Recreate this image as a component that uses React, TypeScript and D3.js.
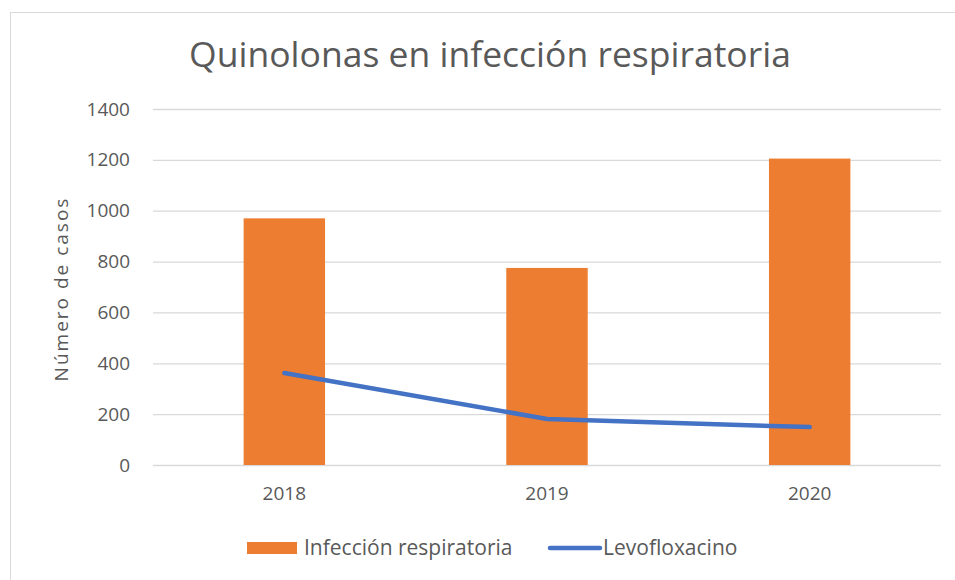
import { useEffect, useRef } from 'react';
import * as d3 from 'd3';

const years = ['2018', '2019', '2020'];
const infeccion = [970, 775, 1205];
const levofloxacino = [362, 181, 149];
const yTicks = [0, 200, 400, 600, 800, 1000, 1200, 1400];

const W = 955;
const H = 580;
const FONT = '"Open Sans", "Liberation Sans", sans-serif';
const GREY = '#595959';

export default function App() {
  const ref = useRef<SVGSVGElement | null>(null);

  useEffect(() => {
    if (!ref.current) return;
    const svg = d3.select(ref.current);
    svg.selectAll('*').remove();

    const margin = { top: 109, right: 14, bottom: 115, left: 153 };
    const innerW = W - margin.left - margin.right;
    const innerH = H - margin.top - margin.bottom;

    // outer frame of the chart area
    svg
      .append('rect')
      .attr('x', 10.5)
      .attr('y', 12.5)
      .attr('width', 1000)
      .attr('height', 1000)
      .attr('fill', '#fff')
      .attr('stroke', '#d9d9d9');

    svg
      .append('text')
      .attr('x', 490)
      .attr('y', 67)
      .attr('text-anchor', 'middle')
      .attr('font-family', FONT)
      .attr('font-size', 35.5)
      .attr('fill', GREY)
      .text('Quinolonas en infección respiratoria');

    const g = svg.append('g').attr('transform', `translate(${margin.left},${margin.top})`);

    const x = d3.scaleBand().domain(years).range([0, innerW]).paddingInner(0.69).paddingOuter(0.345);
    const xc = (d: string) => (x(d) ?? 0) + x.bandwidth() / 2;
    const y = d3.scaleLinear().domain([0, 1400]).range([innerH, 0]);

    const yAxis = g
      .append('g')
      .call(d3.axisLeft(y).tickValues(yTicks).tickFormat(d3.format('d')).tickSize(-innerW).tickPadding(23));
    yAxis.select('.domain').remove();
    yAxis.selectAll('line').attr('stroke', '#d9d9d9').attr('stroke-width', 1.3);
    yAxis
      .selectAll('text')
      .attr('font-family', FONT)
      .attr('font-size', 19)
      .attr('fill', GREY);

    g.selectAll('rect.bar')
      .data(infeccion)
      .join('rect')
      .attr('class', 'bar')
      .attr('x', (_, i) => x(years[i]) ?? 0)
      .attr('y', d => y(d))
      .attr('width', x.bandwidth())
      .attr('height', d => innerH - y(d))
      .attr('fill', '#ED7D31');

    const line = d3
      .line<number>()
      .x((_, i) => xc(years[i]))
      .y(d => y(d));

    g.append('path')
      .datum(levofloxacino)
      .attr('fill', 'none')
      .attr('stroke', '#4472C4')
      .attr('stroke-width', 4.5)
      .attr('stroke-linejoin', 'round')
      .attr('stroke-linecap', 'round')
      .attr('d', line);

    const xAxis = g
      .append('g')
      .attr('transform', `translate(0,${innerH})`)
      .call(d3.axisBottom(x).tickSize(0).tickPadding(22));
    xAxis.select('.domain').remove();
    xAxis
      .selectAll('text')
      .attr('font-family', FONT)
      .attr('font-size', 19)
      .attr('fill', GREY);

    svg
      .append('text')
      .attr('transform', `translate(68,${margin.top + innerH / 2 + 2}) rotate(-90)`)
      .attr('text-anchor', 'middle')
      .attr('font-family', FONT)
      .attr('font-size', 19)
      .attr('letter-spacing', 2)
      .attr('fill', GREY)
      .text('Número de casos');

    // legend
    const leg = svg.append('g').attr('transform', 'translate(0,548)');
    leg.append('rect').attr('x', 247).attr('y', -6).attr('width', 50).attr('height', 12).attr('fill', '#ED7D31');
    leg
      .append('text')
      .attr('x', 304)
      .attr('y', 7)
      .attr('font-family', FONT)
      .attr('font-size', 21)
      .attr('fill', GREY)
      .text('Infección respiratoria');
    leg
      .append('line')
      .attr('x1', 550)
      .attr('x2', 600)
      .attr('y1', 0)
      .attr('y2', 0)
      .attr('stroke', '#4472C4')
      .attr('stroke-width', 4.5)
      .attr('stroke-linecap', 'round');
    leg
      .append('text')
      .attr('x', 603)
      .attr('y', 7)
      .attr('font-family', FONT)
      .attr('font-size', 21)
      .attr('fill', GREY)
      .text('Levofloxacino');
  }, []);

  return <svg ref={ref} width={W} height={H} style={{ position: 'absolute', left: 0, top: 0 }} />;
}
